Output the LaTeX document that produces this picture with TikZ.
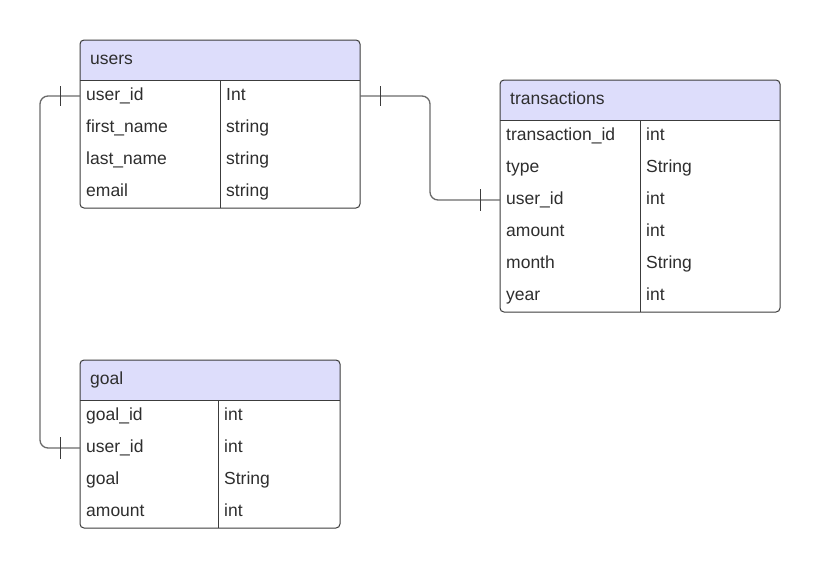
\documentclass[tikz,border=0pt]{standalone}
\usepackage{fontspec}
\setmainfont{Liberation Sans}
\usetikzlibrary{calc}
\definecolor{hdrfill}{HTML}{DDDDFB}
\definecolor{bordercol}{HTML}{3C3C3C}
\definecolor{conncol}{HTML}{6A6A6A}
\definecolor{txtcol}{HTML}{2E2E2E}
\tikzset{
  hdr/.style={fill=hdrfill},
  border/.style={draw=bordercol, line width=1pt},
  cell/.style={anchor=base west, inner sep=0pt, text=txtcol, font=\fontsize{17.5}{20}\selectfont},
  conn/.style={draw=conncol, line width=1.3pt, rounded corners=8pt},
  tick/.style={draw=bordercol, line width=1pt}
}
% #1 name, #2 x, #3 y, #4 width, #5 height, #6 divider offset, #7 title, #8 rows
\newcommand\erdtable[8]{%
  \begin{scope}[shift={(#2,#3)}]
    \fill[hdr] (0,40) {[rounded corners=4pt] -- (0,0) -- (#4,0)} -- (#4,40) -- cycle;
    \node[cell] (#1) at (10,24.5) {#7};
    \foreach \f/\t [count=\i] in {#8} {
      \node[cell] (#1-f\i) at (6,{32*\i+28}) {\f};
      \node[cell] (#1-t\i) at (#6+6,{32*\i+28}) {\t};
      \coordinate (#1-l\i) at (0,{32*\i+24});
      \coordinate (#1-r\i) at (#4,{32*\i+24});
    }
    \draw[border] (0,40) -- (#4,40);
    \draw[border] (#6,40) -- (#6,#5);
    \draw[border, rounded corners=4pt] (0,0) rectangle (#4,#5);
  \end{scope}%
}
\begin{document}
\begin{tikzpicture}[x=1pt,y=-1pt]
  \useasboundingbox[fill=white] (0,0) rectangle (821,568);
  \erdtable{users}{80}{40}{280}{168}{140}{users}{user\_id/Int, first\_name/string, last\_name/string, email/string}
  \erdtable{transactions}{500}{80}{280}{232}{140}{transactions}{transaction\_id/int, type/String, user\_id/int, amount/int, month/String, year/int}
  \erdtable{goal}{80}{360}{260}{168}{138}{goal}{goal\_id/int, user\_id/int, goal/String, amount/int}
  % connectors
  \draw[conn] (users-r1) -- ++(70,0) |- (transactions-l3);
  \draw[conn] (users-l1) -- ++(-40,0) |- (goal-l2);
  % one-marks
  \draw[tick] ($(users-r1)+(20,-10)$) -- ++(0,20);
  \draw[tick] ($(transactions-l3)+(-20,-11)$) -- ++(0,22);
  \draw[tick] ($(users-l1)+(-20,-10)$) -- ++(0,20);
  \draw[tick] ($(goal-l2)+(-20,-11)$) -- ++(0,22);
\end{tikzpicture}
\end{document}
